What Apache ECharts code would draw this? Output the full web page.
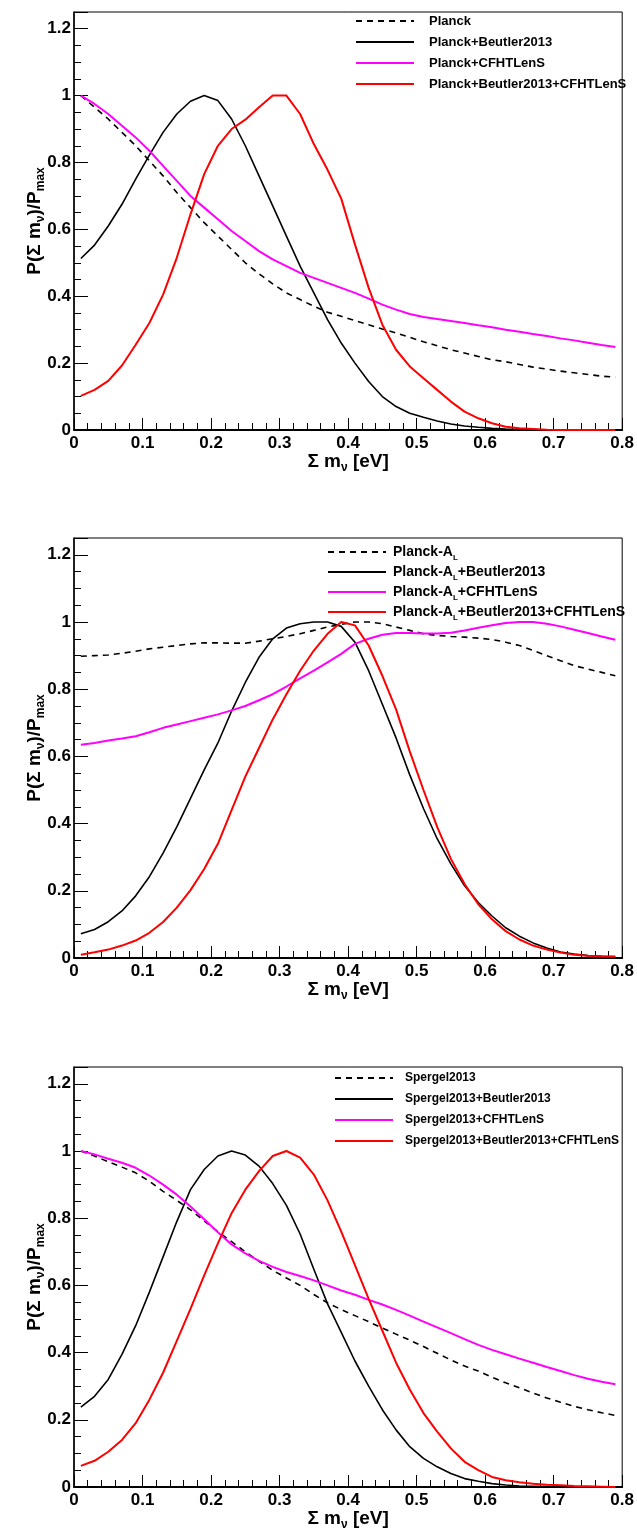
<!DOCTYPE html>
<html>
<head>
<meta charset="utf-8">
<script src="https://cdn.jsdelivr.net/npm/echarts/dist/echarts.min.js"></script>
<style>
html,body{margin:0;padding:0;background:#fff;}
#chart{width:637px;height:1532px;}
</style>
</head>
<body>
<div id="chart"></div>
<script>
// Sum of neutrino masses grid [eV]
const massGrid = [0.01,0.03,0.05,0.07,0.09,0.11,0.13,0.15,0.17,0.19,0.21,0.23,0.25,0.27,0.29,0.31,0.33,0.35,0.37,0.39,0.41,0.43,0.45,0.47,0.49,0.51,0.53,0.55,0.57,0.59,0.61,0.63,0.65,0.67,0.69,0.71,0.73,0.75,0.77,0.79];

// Panel 1
const planck = [1.0,0.965,0.93,0.89,0.85,0.805,0.76,0.71,0.665,0.62,0.58,0.54,0.50,0.467,0.437,0.41,0.39,0.37,0.352,0.34,0.327,0.315,0.302,0.29,0.277,0.264,0.252,0.24,0.23,0.22,0.21,0.204,0.196,0.188,0.182,0.176,0.171,0.166,0.161,0.158];
const planckBeutler = [0.513,0.553,0.61,0.675,0.75,0.822,0.89,0.945,0.983,1.0,0.985,0.93,0.85,0.76,0.67,0.58,0.49,0.41,0.33,0.26,0.20,0.145,0.10,0.07,0.05,0.038,0.027,0.018,0.012,0.008,0.005,0.003,0.002,0.001,0,0,0,0,0,0];
const planckCFHT = [1.0,0.975,0.945,0.91,0.875,0.835,0.79,0.745,0.70,0.665,0.63,0.595,0.565,0.535,0.51,0.49,0.47,0.455,0.44,0.425,0.41,0.393,0.375,0.36,0.347,0.338,0.332,0.326,0.32,0.313,0.307,0.30,0.294,0.287,0.281,0.274,0.268,0.261,0.254,0.248];
const planckBeutlerCFHT = [0.102,0.12,0.147,0.193,0.255,0.32,0.405,0.515,0.645,0.765,0.85,0.90,0.928,0.965,1.0,1.0,0.945,0.855,0.778,0.692,0.555,0.425,0.315,0.24,0.19,0.155,0.12,0.085,0.055,0.035,0.02,0.01,0.005,0.003,0.001,0,0,0,0,0];

// Panel 2
const planckAL = [0.898,0.90,0.902,0.907,0.913,0.92,0.925,0.93,0.935,0.938,0.938,0.937,0.937,0.943,0.95,0.957,0.965,0.975,0.985,0.993,1.0,1.0,0.995,0.985,0.975,0.965,0.96,0.957,0.955,0.952,0.948,0.94,0.93,0.915,0.9,0.885,0.87,0.86,0.85,0.84];
const planckALBeutler = [0.072,0.085,0.108,0.14,0.185,0.242,0.312,0.39,0.475,0.56,0.64,0.735,0.82,0.895,0.95,0.982,0.995,1.0,1.0,0.987,0.94,0.855,0.755,0.655,0.545,0.445,0.355,0.28,0.215,0.165,0.125,0.09,0.065,0.045,0.03,0.018,0.012,0.007,0.005,0.004];
const planckALCFHT = [0.635,0.64,0.647,0.653,0.66,0.672,0.685,0.695,0.705,0.715,0.725,0.737,0.75,0.767,0.785,0.808,0.832,0.855,0.88,0.905,0.935,0.95,0.962,0.967,0.967,0.966,0.966,0.968,0.975,0.983,0.99,0.997,1.0,1.0,0.995,0.987,0.977,0.967,0.957,0.947];
const planckALBeutlerCFHT = [0.01,0.017,0.025,0.037,0.052,0.075,0.107,0.15,0.202,0.265,0.34,0.44,0.54,0.625,0.71,0.785,0.855,0.915,0.965,1.0,0.99,0.93,0.84,0.74,0.615,0.50,0.39,0.295,0.22,0.16,0.115,0.08,0.055,0.037,0.025,0.016,0.01,0.007,0.005,0.004];

// Panel 3
const spergel = [1.0,0.985,0.968,0.952,0.935,0.91,0.88,0.853,0.825,0.792,0.76,0.73,0.70,0.672,0.645,0.622,0.60,0.573,0.548,0.528,0.51,0.492,0.473,0.455,0.437,0.418,0.398,0.378,0.36,0.345,0.327,0.31,0.295,0.28,0.265,0.252,0.24,0.23,0.221,0.213];
const spergelBeutler = [0.238,0.27,0.32,0.395,0.48,0.58,0.685,0.79,0.885,0.945,0.985,1.0,0.988,0.955,0.903,0.838,0.753,0.648,0.545,0.46,0.375,0.30,0.23,0.17,0.12,0.085,0.06,0.04,0.025,0.017,0.01,0.006,0.003,0.002,0.001,0,0,0,0,0];
const spergelCFHT = [1.0,0.99,0.977,0.965,0.95,0.927,0.9,0.87,0.835,0.797,0.758,0.722,0.695,0.673,0.655,0.64,0.628,0.615,0.60,0.585,0.572,0.557,0.543,0.527,0.51,0.492,0.475,0.458,0.44,0.423,0.408,0.395,0.382,0.37,0.357,0.345,0.333,0.322,0.313,0.306];
const spergelBeutlerCFHT = [0.063,0.078,0.105,0.14,0.19,0.26,0.34,0.435,0.53,0.63,0.725,0.815,0.885,0.94,0.985,1.0,0.98,0.93,0.853,0.76,0.66,0.56,0.465,0.37,0.29,0.22,0.165,0.115,0.075,0.05,0.03,0.02,0.014,0.01,0.007,0.005,0.003,0.002,0.001,0];

// Axis ticks
const xTicks = [0,0.1,0.2,0.3,0.4,0.5,0.6,0.7,0.8];
const yTicks = [0,0.2,0.4,0.6,0.8,1,1.2];

const panels = [
  {names:['Planck','Planck+Beutler2013','Planck+CFHTLenS','Planck+Beutler2013+CFHTLenS'],
   values:[planck,planckBeutler,planckCFHT,planckBeutlerCFHT]},
  {names:['Planck-AL','Planck-AL+Beutler2013','Planck-AL+CFHTLenS','Planck-AL+Beutler2013+CFHTLenS'],
   values:[planckAL,planckALBeutler,planckALCFHT,planckALBeutlerCFHT]},
  {names:['Spergel2013','Spergel2013+Beutler2013','Spergel2013+CFHTLenS','Spergel2013+Beutler2013+CFHTLenS'],
   values:[spergel,spergelBeutler,spergelCFHT,spergelBeutlerCFHT]}
];

const FONT = '"Liberation Sans", Arial, Helvetica, sans-serif';
const grids = [
  {left:74, top:12, width:550, height:418},
  {left:74, top:538, width:550, height:420},
  {left:74, top:1067, width:550, height:421}
];
const legendLayout = [
  {left:355, top:14, fontSize:13, gap:7, pad:10},
  {left:327, top:545, fontSize:14, gap:3, pad:2},
  {left:334, top:1071, fontSize:12, gap:7, pad:7}
];
const styles = [
  {color:'#000000', width:1.6, type:[6,5]},
  {color:'#000000', width:1.6, type:'solid'},
  {color:'#ff00ff', width:2, type:'solid'},
  {color:'#ff0000', width:2, type:'solid'}
];

const subStyle = (fs) => ({fontSize:fs, fontWeight:'bold', fontFamily:FONT, color:'#000', verticalAlign:'bottom', padding:[0,0,-3,0]});
const yMax = 1.25;

const option = {
  animation:false,
  backgroundColor:'#ffffff',
  grid: grids.map(g => Object.assign({show:true, borderColor:'#000', borderWidth:1, backgroundColor:'transparent'}, g)),
  xAxis: grids.map((g,i) => ({
    type:'value', gridIndex:i, min:xTicks[0], max:xTicks[xTicks.length-1], interval:0.1,
    position:'bottom',
    axisLine:{show:true, lineStyle:{color:'#000', width:2}},
    axisTick:{show:true, inside:true, length:12, lineStyle:{color:'#000', width:1}},
    minorTick:{show:true, splitNumber:5, length:7, lineStyle:{color:'#000', width:1}},
    splitLine:{show:false},
    axisLabel:{fontSize:17, fontWeight:'bold', fontFamily:FONT, color:'#000', margin:5,
      formatter:v => String(Math.round(v*10)/10)},
    name:'Σ m{sub|ν} [eV]', nameLocation:'middle', nameGap:22, nameMoveOverlap:false,
    nameTextStyle:{fontSize:19, fontWeight:'bold', fontFamily:FONT, color:'#000', rich:{sub:subStyle(12)}}
  })),
  yAxis: grids.map((g,i) => ({
    type:'value', gridIndex:i, min:yTicks[0], max:yMax, interval:0.2, position:'left',
    axisLine:{show:true, lineStyle:{color:'#000', width:1.5}},
    axisTick:{show:true, inside:true, length:14, lineStyle:{color:'#000', width:1}},
    splitLine:{show:false},
    axisLabel:{fontSize:17, fontWeight:'bold', fontFamily:FONT, color:'#000', margin:3,
      formatter:v => { const k = v/0.2; return Math.abs(k-Math.round(k))<1e-6 ? String(Math.round(v*10)/10) : ''; }},
    name:'P(Σ m{sub|ν})/P{sub|max}', nameLocation:'middle', nameGap:30, nameMoveOverlap:false,
    nameTextStyle:{fontSize:19, fontWeight:'bold', fontFamily:FONT, color:'#000', rich:{sub:subStyle(12)}}
  })).concat(grids.map((g,i) => ({
    type:'value', gridIndex:i, min:0, max:yMax, interval:0.05, position:'left',
    axisLine:{show:false}, axisLabel:{show:false}, splitLine:{show:false},
    axisTick:{show:true, inside:true, length:7, lineStyle:{color:'#000', width:1}}
  }))),
  legend: panels.map((p,i) => ({
    data:p.names, orient:'vertical', left:legendLayout[i].left, top:legendLayout[i].top,
    padding:0,
    itemWidth:58, itemHeight:14, itemGap:legendLayout[i].gap, selectedMode:false,
    itemStyle:{color:'rgba(0,0,0,0)', borderColor:'rgba(0,0,0,0)', borderWidth:0},
    formatter: n => n.replace('Planck-AL','Planck-A{sub|L}'),
    textStyle:{fontSize:legendLayout[i].fontSize, fontWeight:'bold', fontFamily:FONT, color:'#000',
      padding:[0,0,0,legendLayout[i].pad], lineHeight:14,
      rich:{sub:subStyle(8)}}
  })),
  series: []
};

panels.forEach((p,i) => {
  p.names.forEach((name,j) => {
    option.series.push({
      type:'line', name:name, xAxisIndex:i, yAxisIndex:i,
      data: massGrid.map((x,k) => [x, p.values[j][k]]),
      symbol:'none', showSymbol:false, smooth:false, silent:true,
      lineStyle:{color:styles[j].color, width:styles[j].width, type:styles[j].type},
      itemStyle:{color:styles[j].color},
      z: j===0 ? 2 : 3
    });
  });
});

const chart = echarts.init(document.getElementById('chart'), null, {renderer:'canvas'});
chart.setOption(option);
</script>
</body>
</html>
